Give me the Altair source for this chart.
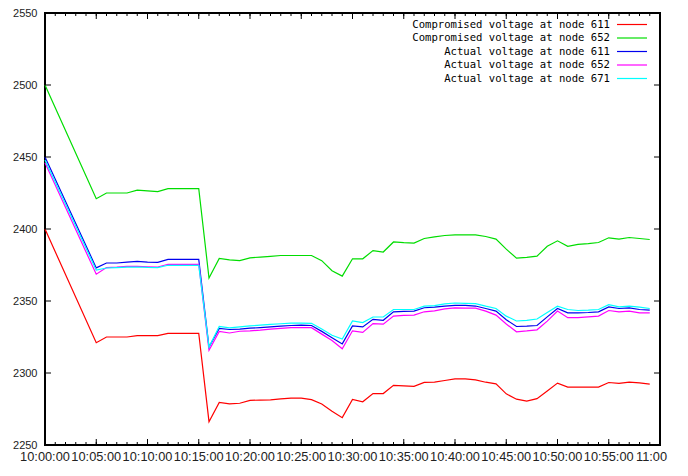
import altair as alt
import pandas as pd

# sample times, minutes after 10:00:00
minutes = [0,
           5, 6, 7, 8, 9, 10, 11, 12, 13, 14,
           15, 16, 17, 18, 19, 20, 21, 22, 23, 24,
           25, 26, 27, 28, 29, 30, 31, 32, 33, 34,
           35, 36, 37, 38, 39, 40, 41, 42, 43, 44,
           45, 46, 47, 48, 49, 50, 51, 52, 53, 54,
           55, 56, 57, 58, 59]

comp_611 = [2400,
            2321, 2325, 2325, 2325, 2326, 2326, 2326, 2327.5, 2327.5, 2327.5,
            2327.5, 2266.2, 2279.5, 2278.5, 2279, 2281, 2281.2, 2281.4, 2282, 2282.5,
            2282.5, 2281.5, 2278.5, 2273.5, 2269, 2281.6, 2280, 2285.7, 2285.7, 2291.4,
            2291, 2290.7, 2293.5, 2293.6, 2294.8, 2295.9, 2295.9, 2295.2, 2293.6, 2292.5,
            2285.5, 2281.8, 2280.5, 2282.2, 2287.5, 2293, 2290.2, 2290.2, 2290.2, 2290.2,
            2293.4, 2292.8, 2293.6, 2293.2, 2292.3]

comp_652 = [2500,
            2421, 2425, 2425, 2425, 2427, 2426.5, 2426, 2428, 2428, 2428,
            2428, 2366, 2379.5, 2378.5, 2378, 2380, 2380.5, 2381, 2381.6, 2381.6,
            2381.6, 2381.6, 2378, 2371, 2367.3, 2379.3, 2379.3, 2385, 2384, 2391,
            2390.5, 2390.2, 2393.4, 2394.5, 2395.5, 2395.9, 2395.9, 2395.9, 2394.8, 2393,
            2386, 2379.8, 2380.3, 2381.2, 2388, 2391.8, 2388, 2389.3, 2389.8, 2390.6,
            2393.9, 2393, 2394.1, 2393.4, 2392.7]

act_611 = [2450,
           2373, 2376.4, 2376.4, 2377, 2377.5, 2377, 2376.8, 2378.9, 2378.9, 2378.9,
           2378.9, 2318, 2331, 2330.2, 2330.5, 2331.1, 2331.5, 2332, 2332.5, 2333,
           2333.2, 2333, 2328.9, 2324.5, 2320.2, 2332.7, 2332, 2337.3, 2336.6, 2342.5,
           2342.8, 2343, 2345.3, 2345.7, 2346.5, 2347, 2346.9, 2346.5, 2344.8, 2343,
           2337, 2332.3, 2332.5, 2333, 2339, 2344.8, 2341.8, 2341.8, 2342, 2342.5,
           2345.9, 2344.8, 2345.2, 2344.1, 2343.6]

act_652 = [2446,
           2368.6, 2373.2, 2373.5, 2374, 2374.1, 2373.8, 2373.6, 2375.5, 2375.5, 2375.5,
           2375.5, 2315.7, 2328.9, 2327.8, 2329, 2329.3, 2329.8, 2330.5, 2331, 2331.5,
           2331.6, 2331.5, 2327, 2322.5, 2316.8, 2329.3, 2328.2, 2334.3, 2333.9, 2339.5,
           2340, 2340.2, 2342.5, 2343.2, 2344.5, 2345.2, 2345, 2345, 2343, 2340.2,
           2334, 2328.6, 2329.2, 2330, 2336, 2343, 2338.4, 2338.4, 2339, 2339.5,
           2343.4, 2342.5, 2343, 2341.8, 2341.8]

act_671 = [2448,
           2371.4, 2372.9, 2373.2, 2373.5, 2373.6, 2373.3, 2373.2, 2374.8, 2374.8, 2374.8,
           2374.8, 2318, 2332.3, 2331.3, 2332, 2332.7, 2333.2, 2333.7, 2334.2, 2334.6,
           2334.6, 2334.5, 2330.5, 2326.2, 2323.6, 2336.1, 2335, 2338.9, 2338.9, 2344.1,
           2344.1, 2344.1, 2346.4, 2346.8, 2348, 2348.6, 2348.4, 2348.2, 2346.4, 2344.8,
           2339.5, 2336.1, 2336.5, 2337.5, 2342, 2346.4, 2344.1, 2343.4, 2343.6, 2344.1,
           2347.5, 2345.9, 2346.4, 2345.7, 2344.8]

names = ["Compromised voltage at node 611",
         "Compromised voltage at node 652",
         "Actual voltage at node 611",
         "Actual voltage at node 652",
         "Actual voltage at node 671"]
colors = ["#ff0000", "#00dd00", "#0000ee", "#ff00ff", "#00ffff"]

x_tick_values = [0, 5, 10, 15, 20, 25, 30, 35, 40, 45, 50, 55, 60]
x_tick_labels = ["10:00:00", "10:05:00", "10:10:00", "10:15:00", "10:20:00",
                 "10:25:00", "10:30:00", "10:35:00", "10:40:00", "10:45:00",
                 "10:50:00", "10:55:00", "11:00"]
x_minor_values = list(range(0, 61))
y_tick_values = [2250, 2300, 2350, 2400, 2450, 2500, 2550]

series = [comp_611, comp_652, act_611, act_652, act_671]
rows = []
for nm, vals in zip(names, series):
    for m, v in zip(minutes, vals):
        rows.append({"series": nm, "minute": m, "voltage": v})
df = pd.DataFrame(rows)

W, H = 615, 432

x_scale = alt.Scale(domain=[0, 60], nice=False, zero=False)
y_scale = alt.Scale(domain=[2250, 2550], nice=False, zero=False)
color_scale = alt.Scale(domain=names, range=colors)

lines = alt.Chart(df).mark_line(strokeWidth=1.2).encode(
    x=alt.X("minute:Q", scale=x_scale,
            axis=alt.Axis(values=x_tick_values, labels=False, ticks=False,
                          domain=False, grid=False, title=None)),
    y=alt.Y("voltage:Q", scale=y_scale,
            axis=alt.Axis(values=y_tick_values, format="d", ticks=False,
                          domain=False, grid=False, title=None,
                          labelFont="Liberation Sans", labelFontSize=11,
                          labelColor="#222222", labelPadding=8)),
    color=alt.Color("series:N", scale=color_scale, legend=None),
)

xlab_mid = pd.DataFrame({"m": x_tick_values[:-1], "lab": x_tick_labels[:-1]})
xlab_end = pd.DataFrame({"m": x_tick_values[-1:], "lab": x_tick_labels[-1:]})

def xlabels(data, align, dx):
    return alt.Chart(data).mark_text(align=align, baseline="top", dx=dx,
                                     font="Liberation Sans", fontSize=12.8,
                                     color="#222222").encode(
        x=alt.X("m:Q", scale=x_scale, axis=None),
        y=alt.value(H + 6), text="lab:N")

xmaj = pd.DataFrame({"m": x_tick_values})
xmin = pd.DataFrame({"m": x_minor_values})
yt = pd.DataFrame({"v": y_tick_values})

def xticks(data, y0, y1):
    return alt.Chart(data).mark_rule(color="black", strokeWidth=1).encode(
        x=alt.X("m:Q", scale=x_scale, axis=None),
        y=alt.value(y0), y2=alt.value(y1))

def yticks(x0, x1):
    return alt.Chart(yt).mark_rule(color="black", strokeWidth=1).encode(
        y=alt.Y("v:Q", scale=y_scale, axis=None),
        x=alt.value(x0), x2=alt.value(x1))

leg = pd.DataFrame({"series": names})
leg_y = alt.Y("series:N", sort=names,
              scale=alt.Scale(type="point", domain=names, range=[11.5, 65.5], padding=0),
              axis=None)
leg_text = alt.Chart(leg).mark_text(align="right", baseline="middle",
                                    font="DejaVu Sans Mono", fontSize=10.6,
                                    color="black").encode(
    y=leg_y, x=alt.value(565), text="series:N")
leg_rule = alt.Chart(leg).mark_rule(strokeWidth=1.2).encode(
    y=leg_y, x=alt.value(572), x2=alt.value(602),
    color=alt.Color("series:N", scale=color_scale, legend=None))

chart = alt.layer(
    lines,
    xticks(xmaj, H, H - 6), xticks(xmaj, 0, 6),
    xticks(xmin, H, H - 3), xticks(xmin, 0, 3),
    yticks(0, 6), yticks(W, W - 6),
    xlabels(xlab_mid, "center", 0), xlabels(xlab_end, "left", -24),
    leg_rule, leg_text,
).resolve_scale(y="independent").properties(
    width=W, height=H,
    padding={"left": 37, "top": 5, "right": 15, "bottom": 18},
    autosize=alt.AutoSizeParams(type="none"),
    background="white",
).configure_view(stroke="black", strokeWidth=2)

chart.save("out.html", embed_options={"renderer": "svg", "actions": False})
